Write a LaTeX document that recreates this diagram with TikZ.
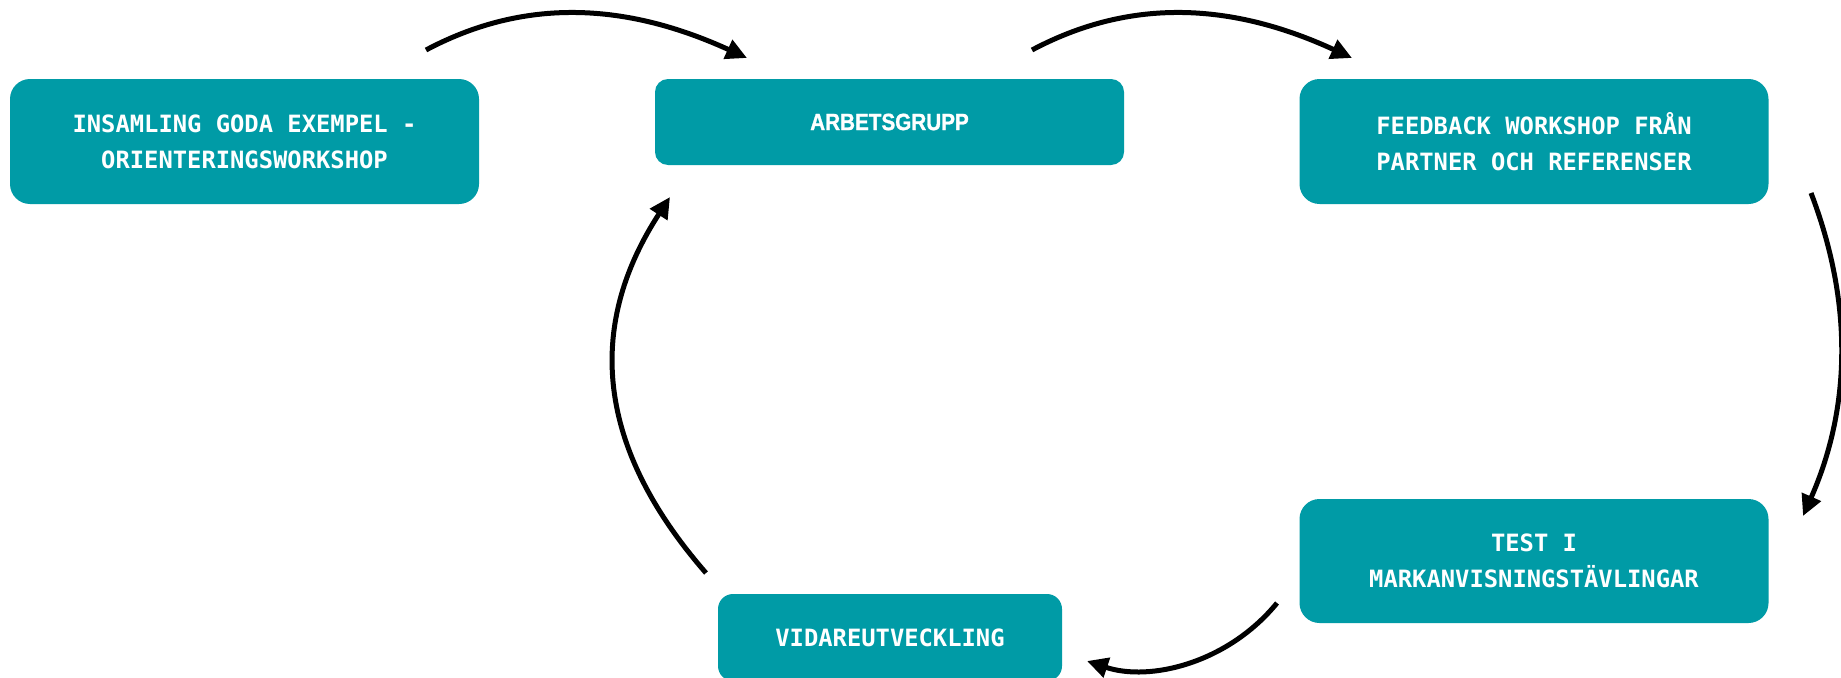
\documentclass[tikz,border=0pt]{standalone}
\usepackage{fontspec}
\usetikzlibrary{arrows.meta}
\newfontfamily\boxmono{DejaVu Sans Mono Bold}
\newfontfamily\boxsans{Liberation Sans Bold}[FakeStretch=0.88,FakeBold=1.2]
\definecolor{teal}{HTML}{009BA6}
\tikzset{
  stepbox/.style={fill=teal, text=white, align=center, inner sep=0pt,
    minimum width=469pt, rounded corners=20pt,
    font=\boxmono\fontsize{23.8}{36}\selectfont},
  flow/.style={line width=5pt, -{Triangle[length=21pt,width=20pt]}}
}
\begin{document}
\begin{tikzpicture}[x=1pt,y=-1pt]
\useasboundingbox[fill=white] (0,0) rectangle (1841,677);

% process steps
\node[stepbox, minimum height=125pt]
  (collect) at (244.5,141.5) {INSAMLING GODA EXEMPEL -\\ORIENTERINGSWORKSHOP};
\node[stepbox, minimum height=86pt, rounded corners=13pt,
  font=\boxsans\fontsize{23.5}{36}\selectfont]
  (group) at (889.5,122) {ARBETSGRUPP};
\node[stepbox, minimum height=125pt]
  (feedback) at (1534,141.5) {FEEDBACK WORKSHOP FRÅN\\PARTNER OCH REFERENSER};
\node[stepbox, minimum height=124pt]
  (test) at (1534,561) {TEST I\\MARKANVISNINGSTÄVLINGAR};
\node[stepbox, minimum width=344pt, minimum height=87pt, rounded corners=15pt]
  (further) at (890,637.5) {VIDAREUTVECKLING};

% connector end points
\coordinate (a1) at (426,50);   \coordinate (a2) at (747,58);
\coordinate (b1) at (1032,50);  \coordinate (b2) at (1352,58);
\coordinate (c1) at (1811,193); \coordinate (c2) at (1803,516);
\coordinate (d1) at (1277,603); \coordinate (d2) at (1087,661);
\coordinate (e1) at (706,573);  \coordinate (e2) at (670,197);

% cycle arrows
\draw[flow] (a1) .. controls (520,0) and (620,0) .. (a2);
\draw[flow] (b1) .. controls (1126,0) and (1226,0) .. (b2);
\draw[flow] (c1) .. controls (1852,300) and (1852,405) .. (c2);
\draw[flow] (d1) .. controls (1228,663) and (1150,682) .. (d2);
\draw[flow] (e1) .. controls (590,440) and (590,320) .. (e2);
\end{tikzpicture}
\end{document}
